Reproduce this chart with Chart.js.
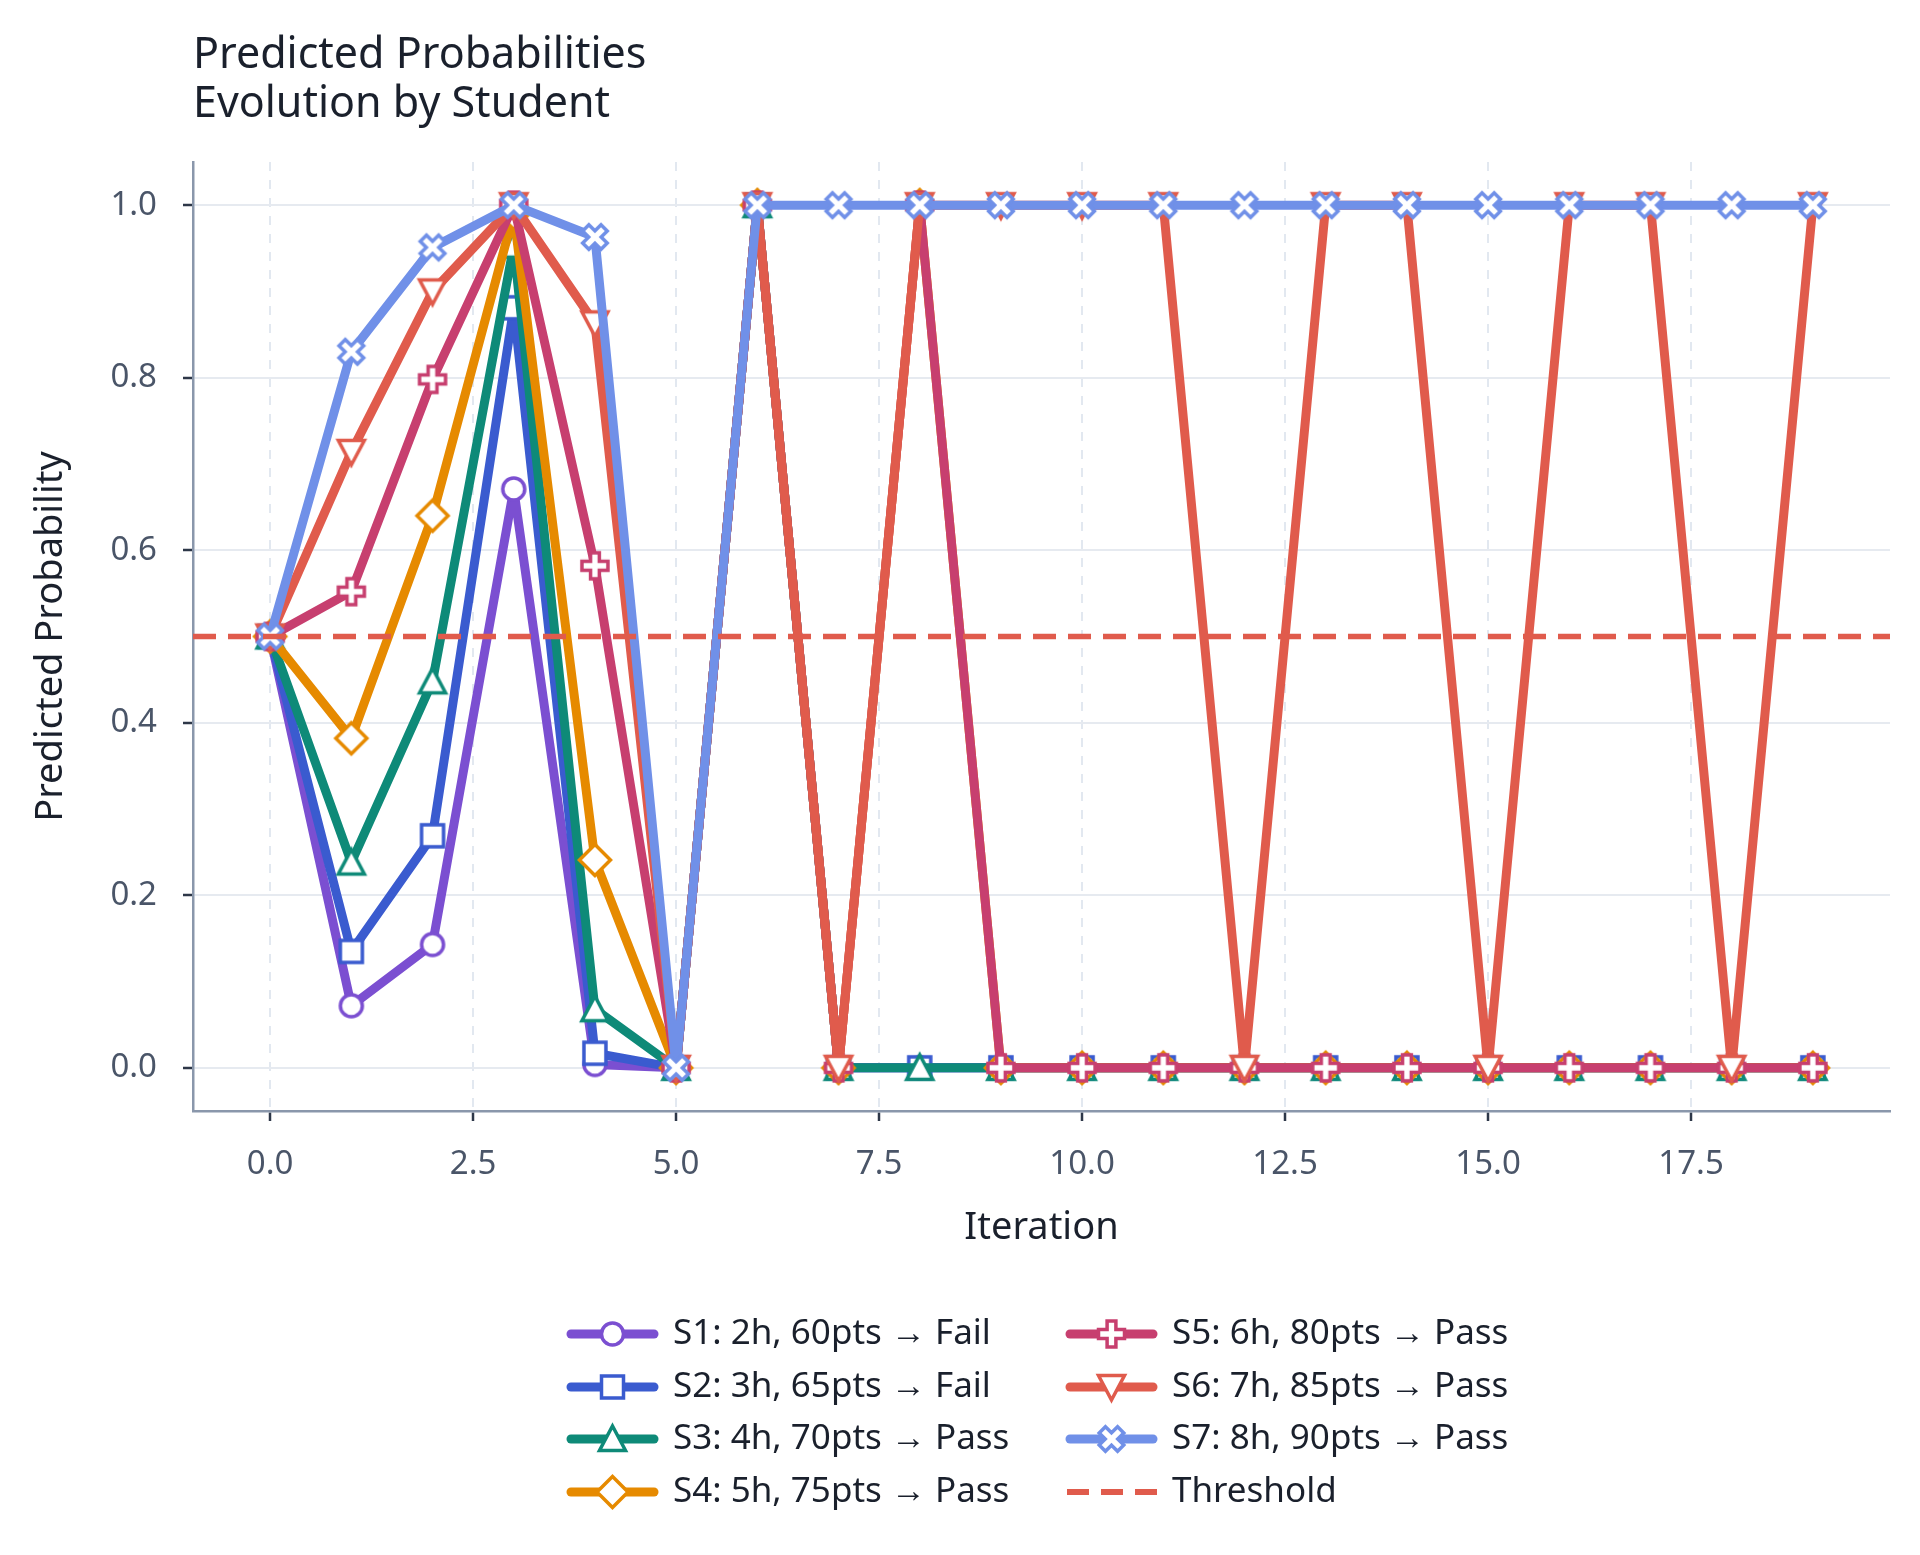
<!DOCTYPE html>
<html>
<head>
<meta charset="utf-8">
<title>Predicted Probabilities Evolution by Student</title>
<script src="https://cdn.jsdelivr.net/npm/chart.js@4.4.1/dist/chart.umd.min.js"></script>
<style>
  html, body { margin: 0; padding: 0; background: #fff; }
  #chart { display: block; }
</style>
</head>
<body>
<canvas id="chart" width="1920" height="1555"></canvas>
<script>
// Data
const ITERATIONS = [0, 1, 2, 3, 4, 5, 6, 7, 8, 9, 10, 11, 12, 13, 14, 15, 16, 17, 18, 19];
const X_TICKS = [0, 2.5, 5, 7.5, 10, 12.5, 15, 17.5];
const Y_TICKS = [0, 0.2, 0.4, 0.6, 0.8, 1.0];
const X_RANGE = [-0.95, 19.95];
const Y_RANGE = [-0.05, 1.05];
const THRESHOLD = 0.5;

const STUDENT_LABELS = [
    'S1: 2h, 60pts \u2192 Fail',
    'S2: 3h, 65pts \u2192 Fail',
    'S3: 4h, 70pts \u2192 Pass',
    'S4: 5h, 75pts \u2192 Pass',
    'S5: 6h, 80pts \u2192 Pass',
    'S6: 7h, 85pts \u2192 Pass',
    'S7: 8h, 90pts \u2192 Pass'
];
const THRESHOLD_LABEL = 'Threshold';

const S1 = [0.5, 0.072, 0.143, 0.671, 0.004, 0, 1, 0, 0, 0, 0, 0, 0, 0, 0, 0, 0, 0, 0, 0];
const S2 = [0.5, 0.135, 0.269, 0.881, 0.017, 0, 1, 0, 0, 0, 0, 0, 0, 0, 0, 0, 0, 0, 0, 0];
const S3 = [0.5, 0.238, 0.448, 0.953, 0.068, 0, 1, 0, 0, 0, 0, 0, 0, 0, 0, 0, 0, 0, 0, 0];
const S4 = [0.5, 0.382, 0.640, 0.990, 0.241, 0, 1, 0, 1, 0, 0, 0, 0, 0, 0, 0, 0, 0, 0, 0];
const S5 = [0.5, 0.552, 0.798, 1.000, 0.582, 0, 1, 0, 1, 0, 0, 0, 0, 0, 0, 0, 0, 0, 0, 0];
const S6 = [0.5, 0.714, 0.900, 1.000, 0.863, 0, 1, 0, 1, 1, 1, 1, 0, 1, 1, 0, 1, 1, 0, 1];
const S7 = [0.5, 0.830, 0.951, 1.000, 0.963, 0, 1, 1, 1, 1, 1, 1, 1, 1, 1, 1, 1, 1, 1, 1];
const SERIES = [S1, S2, S3, S4, S5, S6, S7];

const COLORS = ['#7b4fd1', '#3a5bcf', '#0e8a78', '#e68a00', '#c73f6f', '#e05b4c', '#7090e8'];
const MARKERS = ['circle', 'square', 'triangleUp', 'diamond', 'plus', 'triangleDown', 'x'];
const THRESHOLD_COLOR = '#e05b4c';

const FONT = '"Noto Sans", "Open Sans", sans-serif';

// Marker shapes (matplotlib-like: white face, coloured edge)
function markerPath(ctx, shape, cx, cy) {
    ctx.beginPath();
    if (shape === 'circle') {
        ctx.arc(cx, cy, 11, 0, Math.PI * 2);
    } else if (shape === 'square') {
        ctx.rect(cx - 11, cy - 11, 22, 22);
    } else if (shape === 'triangleUp') {
        ctx.moveTo(cx, cy - 13);
        ctx.lineTo(cx + 13, cy + 11.5);
        ctx.lineTo(cx - 13, cy + 11.5);
        ctx.closePath();
    } else if (shape === 'triangleDown') {
        ctx.moveTo(cx, cy + 13);
        ctx.lineTo(cx + 13, cy - 11.5);
        ctx.lineTo(cx - 13, cy - 11.5);
        ctx.closePath();
    } else if (shape === 'diamond') {
        ctx.moveTo(cx, cy - 15.5);
        ctx.lineTo(cx + 15.5, cy);
        ctx.lineTo(cx, cy + 15.5);
        ctx.lineTo(cx - 15.5, cy);
        ctx.closePath();
    } else {
        // plus / x
        const a = 13, w = 4.4;
        const pts = [[-w, -a], [w, -a], [w, -w], [a, -w], [a, w], [w, w], [w, a], [-w, a], [-w, w], [-a, w], [-a, -w], [-w, -w]];
        const rot = shape === 'x' ? Math.PI / 4 : 0;
        const c = Math.cos(rot), s = Math.sin(rot);
        pts.forEach(function(p, i) {
            const px = cx + p[0] * c - p[1] * s;
            const py = cy + p[0] * s + p[1] * c;
            if (i === 0) ctx.moveTo(px, py); else ctx.lineTo(px, py);
        });
        ctx.closePath();
    }
}

function drawMarker(ctx, shape, cx, cy, color) {
    ctx.save();
    markerPath(ctx, shape, cx, cy);
    ctx.fillStyle = '#ffffff';
    ctx.fill();
    ctx.lineWidth = 3.5;
    ctx.lineJoin = 'miter';
    ctx.strokeStyle = color;
    ctx.stroke();
    ctx.restore();
}

function markerImage(shape, color) {
    const c = document.createElement('canvas');
    c.width = 44;
    c.height = 44;
    drawMarker(c.getContext('2d'), shape, 22, 22, color);
    return c;
}

// Title drawn left-aligned with the plot area
const titlePlugin = {
    id: 'leftTitle',
    afterDraw(chart) {
        const ctx = chart.ctx;
        ctx.save();
        ctx.font = '43px ' + FONT;
        ctx.fillStyle = '#1a202c';
        ctx.textAlign = 'left';
        ctx.textBaseline = 'middle';
        ctx.fillText('Predicted Probabilities', chart.chartArea.left, 56);
        ctx.fillText('Evolution by Student', chart.chartArea.left, 105);
        ctx.restore();
    }
};

// Two-column legend below the axis
const legendPlugin = {
    id: 'columnLegend',
    afterDraw(chart) {
        const ctx = chart.ctx;
        const colX = [566, 1065];
        const rowY = [1334, 1387, 1439, 1492];
        const iconW = 93;
        const items = STUDENT_LABELS.map(function(label, i) {
            return { label: label, color: COLORS[i], marker: MARKERS[i] };
        });
        items.push({ label: THRESHOLD_LABEL, color: THRESHOLD_COLOR, marker: null });

        ctx.save();
        items.forEach(function(item, i) {
            const x0 = colX[Math.floor(i / 4)];
            const y = rowY[i % 4];
            ctx.beginPath();
            ctx.strokeStyle = item.color;
            if (item.marker) {
                ctx.lineWidth = 9;
                ctx.lineCap = 'round';
                ctx.setLineDash([]);
                ctx.moveTo(x0 + 5, y);
                ctx.lineTo(x0 + iconW - 5, y);
                ctx.stroke();
                drawMarker(ctx, item.marker, x0 + iconW / 2, y, item.color);
            } else {
                ctx.lineWidth = 6;
                ctx.lineCap = 'butt';
                ctx.setLineDash([22, 12]);
                ctx.moveTo(x0 + 2, y);
                ctx.lineTo(x0 + iconW, y);
                ctx.stroke();
                ctx.setLineDash([]);
            }
            ctx.font = '35px ' + FONT;
            ctx.fillStyle = '#1a202c';
            ctx.textAlign = 'left';
            ctx.textBaseline = 'middle';
            ctx.fillText(item.label, x0 + 107, y);
        });
        ctx.restore();
    }
};

const datasets = SERIES.map(function(values, i) {
    return {
        label: STUDENT_LABELS[i],
        data: ITERATIONS.map(function(x, j) { return { x: x, y: values[j] }; }),
        borderColor: COLORS[i],
        backgroundColor: COLORS[i],
        borderWidth: 9,
        borderJoinStyle: 'round',
        borderCapStyle: 'round',
        tension: 0,
        fill: false,
        pointStyle: markerImage(MARKERS[i], COLORS[i]),
        pointRadius: 14,
        order: SERIES.length - i   // later students drawn on top
    };
});

datasets.push({
    label: THRESHOLD_LABEL,
    data: [{ x: X_RANGE[0], y: THRESHOLD }, { x: X_RANGE[1], y: THRESHOLD }],
    borderColor: THRESHOLD_COLOR,
    borderWidth: 5.5,
    borderDash: [23, 12],
    pointRadius: 0,
    fill: false,
    order: 0
});

const chart = new Chart(document.getElementById('chart').getContext('2d'), {
    type: 'line',
    data: { datasets: datasets },
    options: {
        responsive: false,
        devicePixelRatio: 1,
        animation: false,
        events: [],
        layout: {
            padding: { left: 0, right: 30, top: 162, bottom: 284 }
        },
        scales: {
            x: {
                type: 'linear',
                min: X_RANGE[0],
                max: X_RANGE[1],
                afterBuildTicks: function(scale) {
                    scale.ticks = X_TICKS.map(function(v) { return { value: v }; });
                },
                afterFit: function(scale) {
                    scale.height = 160;
                },
                ticks: {
                    autoSkip: false,
                    maxRotation: 0,
                    padding: 24,
                    color: '#4a5568',
                    font: { family: FONT, size: 33 },
                    callback: function(v) { return Number(v).toFixed(1); }
                },
                grid: {
                    color: '#e2e8f0',
                    lineWidth: 2,
                    tickColor: '#2d3748',
                    tickWidth: 2.5,
                    tickLength: 10
                },
                border: {
                    display: true,
                    color: '#8a97ab',
                    width: 2.5,
                    dash: [9, 9]
                },
                title: {
                    display: true,
                    text: 'Iteration',
                    color: '#1a202c',
                    font: { family: FONT, size: 38 },
                    padding: { top: 0, bottom: 20 }
                }
            },
            y: {
                type: 'linear',
                min: Y_RANGE[0],
                max: Y_RANGE[1],
                afterBuildTicks: function(scale) {
                    scale.ticks = Y_TICKS.map(function(v) { return { value: v }; });
                },
                afterFit: function(scale) {
                    scale.width = 193;
                },
                ticks: {
                    padding: 26,
                    color: '#4a5568',
                    font: { family: FONT, size: 33 },
                    callback: function(v) { return Number(v).toFixed(1); }
                },
                grid: {
                    color: '#e6eaf0',
                    lineWidth: 2,
                    tickColor: '#2d3748',
                    tickWidth: 2.5,
                    tickLength: 10
                },
                border: {
                    display: true,
                    color: '#8a97ab',
                    width: 2.5
                },
                title: {
                    display: true,
                    text: 'Predicted Probability',
                    color: '#1a202c',
                    font: { family: FONT, size: 38 },
                    padding: { top: 28, bottom: 0 }
                }
            }
        },
        plugins: {
            legend: { display: false },
            title: { display: false },
            tooltip: { enabled: false }
        }
    },
    plugins: [titlePlugin, legendPlugin]
});
</script>
</body>
</html>
